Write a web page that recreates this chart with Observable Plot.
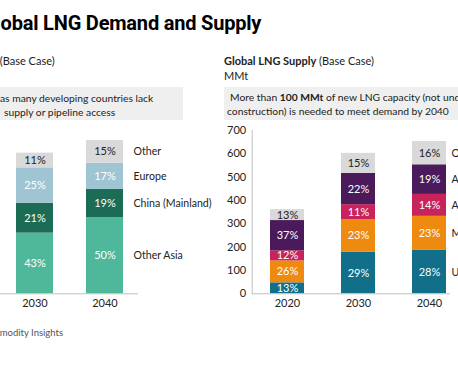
<!DOCTYPE html>
<html><head><meta charset="utf-8">
<script src="https://cdn.jsdelivr.net/npm/d3@7"></script>
<script src="https://cdn.jsdelivr.net/npm/@observablehq/plot@0.6"></script>
<style>
html,body{margin:0;padding:0;width:458px;height:382px;overflow:hidden;background:#fff;}
#page{position:relative;width:458px;height:382px;overflow:hidden;font-family:Lato,sans-serif;color:#222;}
.abs{position:absolute;white-space:nowrap;line-height:1;}
#title{font-family:Roboto,sans-serif;font-weight:700;font-size:20px;color:#000;top:13px;letter-spacing:-0.2px;}
.sub{font-size:11px;}
.box{position:absolute;background:#efefef;}
.boxtxt{font-size:10.3px;color:#222;}
#caption{font-size:9.5px;color:#555;top:328px;}
svg{overflow:visible;max-width:none !important;}
#left{width:220px;}
#right{width:300px;}
</style></head>
<body><div id="page">
<div id="title" class="abs">Global LNG Demand and Supply</div>
<div id="lsub" class="abs sub" style="top:55px"><b>Global LNG Demand</b> (Base Case)</div>
<div class="box" style="left:0;top:87px;width:183px;height:33px"></div>
<div class="abs boxtxt" style="left:0;top:93px">as many developing countries lack</div>
<div class="abs boxtxt" style="left:4px;top:106.5px">supply or pipeline access</div>
<div class="abs sub" style="left:224px;top:55px"><b>Global LNG Supply</b> (Base Case)</div>
<div class="abs sub" style="left:224px;top:70px">MMt</div>
<div class="box" style="left:224px;top:87px;width:240px;height:33px"></div>
<div class="abs boxtxt" style="left:230px;top:92px">More than <b>100 MMt</b> of new LNG capacity (not under</div>
<div class="abs boxtxt" style="left:227px;top:105.5px">construction) is needed to meet demand by 2040</div>
<div id="left" style="position:absolute;left:0;top:120px"></div>
<div id="right" style="position:absolute;left:220px;top:120px"></div>
<div id="caption" class="abs">S&amp;P Global Commodity Insights</div>
</div>
<script>
// ---- data ----
const demandYears = ["2030", "2040"];
const demandRegions = ["Other Asia", "China (Mainland)", "Europe", "Other"];
const demandColors = ["#4fb79a", "#1b6b55", "#9fc4d2", "#d9d9d9"];
const demand2030 = [260, 128, 152, 63];
const demand2040 = [326, 121, 113, 97];
const demandPct2030 = ["43%", "21%", "25%", "11%"];
const demandPct2040 = ["50%", "19%", "17%", "15%"];

const supplyYears = ["2020", "2030", "2040"];
const supplyRegions = ["US", "Middle East", "Africa", "Asia Pacific", "Other"];
const supplyColors = ["#126f8a", "#ef8a10", "#c8235a", "#4b1a5a", "#d9d9d9"];
const supply2020 = [47, 94, 43, 130, 47];
const supply2030 = [178, 140, 64, 134, 86];
const supply2040 = [186, 146, 94, 127, 100];
const supplyPct2020 = ["13%", "26%", "12%", "37%", "13%"];
const supplyPct2030 = ["29%", "23%", "11%", "22%", "15%"];
const supplyPct2040 = ["28%", "23%", "14%", "19%", "16%"];

const yTicks = [0, 100, 200, 300, 400, 500, 600, 700];

// ---- tables ----
const demandRows = [];
[[demand2030, demandPct2030], [demand2040, demandPct2040]].forEach(([vals, pcts], i) =>
  demandRegions.forEach((r, j) => demandRows.push({year: demandYears[i], region: r, value: vals[j], pct: pcts[j]})));
const supplyRows = [];
[[supply2020, supplyPct2020], [supply2030, supplyPct2030], [supply2040, supplyPct2040]].forEach(([vals, pcts], i) =>
  supplyRegions.forEach((r, j) => supplyRows.push({year: supplyYears[i], region: r, value: vals[j], pct: pcts[j]})));

const style = {fontFamily: "Lato, sans-serif", fontSize: "11px", color: "#222", background: "transparent"};
const H = 200, MT = 10, MB = 26.7;

const left = Plot.plot({
  width: 220, height: H, marginTop: MT, marginBottom: MB, marginLeft: 0, marginRight: 82,
  style,
  x: {domain: demandYears, paddingInner: 0.473, paddingOuter: 0.22, align: 0.52, label: null},
  y: {domain: [0, 700], axis: null},
  color: {domain: demandRegions, range: demandColors},
  marks: [
    Plot.barY(demandRows, {x: "year", y: "value", fill: "region"}),
    Plot.text(demandRows, Plot.stackY({x: "year", y: "value", z: "region", text: "pct",
      fill: d => d.region === "Other" ? "#222" : "#fff", fontSize: 11})),
    Plot.text(demandRows.filter(d => d.year === "2040"), Plot.stackY({x: "year", y: "value", z: "region",
      text: "region", dx: 28.5, textAnchor: "start", fill: "#222", fontSize: 10.6})),
    Plot.ruleY([0], {stroke: "#bfbfbf"}),
    Plot.axisX({tickSize: 0, tickPadding: 5, fontSize: 11, label: null})
  ]
});
document.getElementById("left").append(left);

const right = Plot.plot({
  width: 300, height: H, marginTop: MT, marginBottom: MB, marginLeft: 31.7, marginRight: 70,
  style,
  x: {domain: supplyYears, paddingInner: 0.523, paddingOuter: 0.153, align: 0.807, label: null},
  y: {domain: [0, 700], label: null},
  color: {domain: supplyRegions, range: supplyColors},
  marks: [
    Plot.frame({anchor: "left", stroke: "#bfbfbf"}),
    Plot.axisY({ticks: yTicks, tickSize: 0, tickPadding: 6, fontSize: 11, label: null}),
    Plot.barY(supplyRows, {x: "year", y: "value", fill: "region"}),
    Plot.text(supplyRows, Plot.stackY({x: "year", y: "value", z: "region", text: "pct",
      fill: d => d.region === "Other" ? "#222" : "#fff", fontSize: 11})),
    Plot.text(supplyRows.filter(d => d.year === "2040"), Plot.stackY({x: "year", y: "value", z: "region",
      text: "region", dx: 22, textAnchor: "start", fill: "#222", fontSize: 10.6})),
    Plot.ruleY([0], {stroke: "#bfbfbf"}),
    Plot.axisX({tickSize: 0, tickPadding: 5, fontSize: 11, label: null})
  ]
});
document.getElementById("right").append(right);

// ---- shift cropped texts so the visible part lines up with the reference ----
function textWidth(str, el) {
  const cs = getComputedStyle(el);
  const c = document.createElement("canvas").getContext("2d");
  c.font = `${cs.fontWeight} ${cs.fontSize} ${cs.fontFamily}`;
  return c.measureText(str).width;
}
const t = document.getElementById("title");
t.style.left = (-textWidth("Gl", t) + 1) + "px";
const ls = document.getElementById("lsub");
const b = document.createElement("span"); b.style.fontWeight = "700"; b.textContent = "x"; ls.append(b);
const wBold = textWidth("Global LNG Demand", b); b.remove();
ls.style.left = (-(wBold + textWidth(" (", ls)) + 2.7) + "px";
const cap = document.getElementById("caption");
cap.style.left = (-textWidth("S&P Global Com", cap)) + "px";
</script>
</body></html>
